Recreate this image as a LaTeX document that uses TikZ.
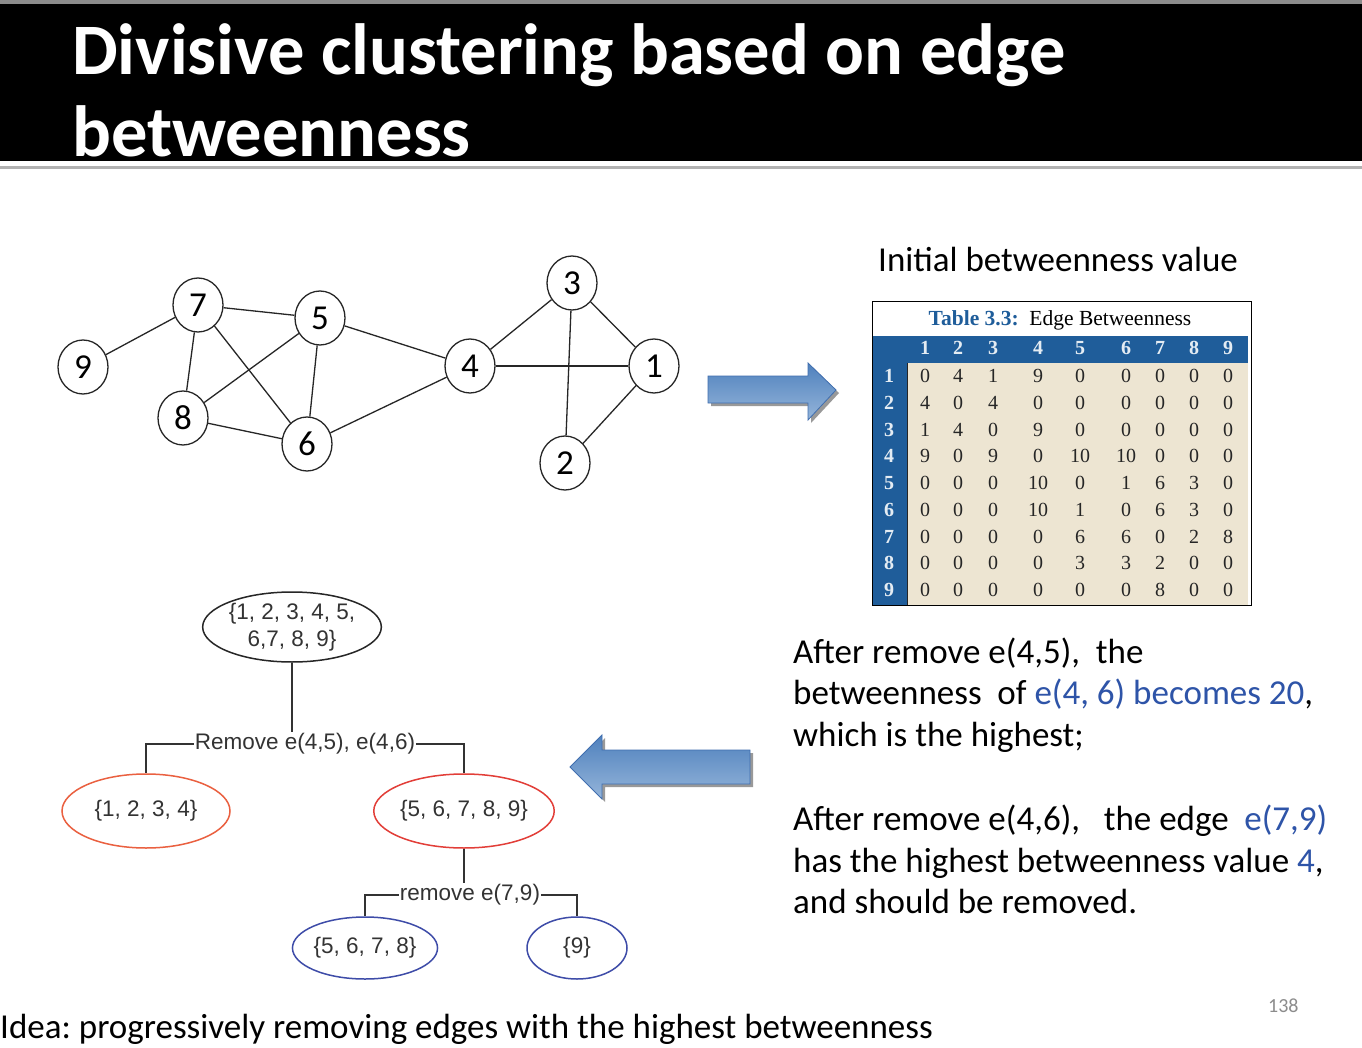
\documentclass[tikz,border=0pt]{standalone}
\usepackage{fontspec}
\newfontfamily\calfont{Carlito}
\newfontfamily\arialfont{Liberation Sans}
\newfontfamily\tabfont{Liberation Serif}
\usetikzlibrary{calc,shapes.geometric}
\definecolor{tabblue}{RGB}{31,93,154}
\definecolor{tabbeige}{RGB}{237,229,210}
\definecolor{hltblue}{RGB}{46,84,168}
\definecolor{arrowtop}{RGB}{79,129,189}
\definecolor{arrowbot}{RGB}{149,181,218}
\definecolor{arrowedge}{RGB}{64,110,175}
\definecolor{redA}{RGB}{234,96,64}
\definecolor{redB}{RGB}{226,62,56}
\definecolor{treeblue}{RGB}{62,76,168}
\frenchspacing
\begin{document}
\begin{tikzpicture}[x=1pt,y=-1pt,
  gnode/.style={ellipse, draw=black!85, line width=1.3pt, minimum width=50pt,
    minimum height=54pt, inner sep=0pt, font=\calfont\fontsize{35}{35}\selectfont},
  gedge/.style={draw=black!85, line width=1.3pt},
  tnode/.style={ellipse, line width=1.5pt, inner sep=0pt, align=center,
    font=\arialfont\fontsize{22.5}{27}\selectfont, text=black!80},
  tlabel/.style={inner sep=1pt, font=\arialfont\fontsize{22.5}{27}\selectfont, text=black!80},
  tedge/.style={draw=black!80, line width=1.5pt},
  bodytext/.style={anchor=base west, inner sep=0pt, font=\calfont\fontsize{35}{35}\selectfont},
  cell/.style={inner sep=0pt, font=\tabfont\fontsize{20}{20}\selectfont, text=black!85},
  headcell/.style={inner sep=0pt, font=\tabfont\bfseries\fontsize{20}{20}\selectfont, text=white!88!tabblue},
  blockarrow/.style={top color=arrowtop, bottom color=arrowbot, draw=arrowedge, line width=0.8pt},
  arrowshadow/.style={fill=black!40}
]
\useasboundingbox (0,0) rectangle (1362,1048);
\fill[white] (0,0) rectangle (1362,1048);

% title band
\fill[black!45] (0,0) rectangle (1362,4);
\fill[black] (0,4) rectangle (1362,161);
\fill[black!30] (0,166) rectangle (1362,169);
\node[anchor=base west, inner sep=0pt, text=white,
  font=\calfont\bfseries\fontsize{72.5}{82}\selectfont] (title1) at (72,75)
  {Divisive clustering based on edge};
\node[anchor=base west, inner sep=0pt, text=white,
  font=\calfont\bfseries\fontsize{72.5}{82}\selectfont] (title2) at (72,157)
  {betweenness};

% graph
\node[gnode] (n9) at (83,367) {9};
\node[gnode] (n7) at (198,305) {7};
\node[gnode] (n5) at (320,318) {5};
\node[gnode] (n8) at (183,418) {8};
\node[gnode] (n6) at (307,444) {6};
\node[gnode] (n4) at (470,366) {4};
\node[gnode] (n3) at (572,283) {3};
\node[gnode] (n1) at (654,366) {1};
\node[gnode] (n2) at (565,463) {2};
\foreach \a/\b in {n9/n7, n7/n5, n7/n8, n7/n6, n5/n8, n5/n6, n5/n4, n8/n6,
  n6/n4, n4/n3, n4/n1, n3/n1, n3/n2, n1/n2}
  \draw[gedge] (\a) -- (\b);

% block arrows
\fill[arrowshadow] (711,379) -- (811,379) -- (811,366) -- (839,393) -- (811,423)
  -- (811,406) -- (711,406) -- cycle;
\path[blockarrow] (708,376) -- (808,376) -- (808,363) -- (836,390) -- (808,420)
  -- (808,403) -- (708,403) -- cycle;
\fill[arrowshadow] (753,753) -- (605,753) -- (605,738) -- (573,770) -- (605,802)
  -- (605,787) -- (753,787) -- cycle;
\path[blockarrow] (750,750) -- (602,750) -- (602,735) -- (570,767) -- (602,799)
  -- (602,784) -- (750,784) -- cycle;

% table
\node[bodytext] (inittitle) at (878,272) {Initial betweenness value};
\fill[tabblue] (873,336) rectangle (1248,363);
\fill[tabblue] (873,363) rectangle (907,605);
\fill[tabbeige] (907,363) rectangle (1248,605);
\draw[black!85, line width=1pt] (907,363) -- (907,605);
\draw[black, line width=1pt] (872,302) rectangle (1251,605);
\node[inner sep=0pt, font=\tabfont\fontsize{21.5}{21.5}\selectfont] (tabcap) at (1060,320)
  {\textcolor{tabblue}{\bfseries Table 3.3:}\ \ Edge Betweenness};
\foreach \c [count=\i] in {925,958,993,1038,1080,1126,1160,1194,1228}
  \node[headcell] (h-\i) at (\c,348) {\i};
\foreach \r/\vals in {1/{0,4,1,9,0,0,0,0,0}, 2/{4,0,4,0,0,0,0,0,0},
  3/{1,4,0,9,0,0,0,0,0}, 4/{9,0,9,0,10,10,0,0,0}, 5/{0,0,0,10,0,1,6,3,0},
  6/{0,0,0,10,1,0,6,3,0}, 7/{0,0,0,0,6,6,0,2,8}, 8/{0,0,0,0,3,3,2,0,0},
  9/{0,0,0,0,0,0,8,0,0}} {
  \pgfmathsetmacro\yy{376+(\r-1)*26.75}
  \node[headcell] (r-\r) at (889,\yy) {\r};
  \foreach \v [count=\c] in \vals {
    \pgfmathsetmacro\xx{{925,958,993,1038,1080,1126,1160,1194,1228}[\c-1]}
    \node[cell] (c-\r-\c) at (\xx,\yy) {\v};
  }
}

% explanation text
\node[bodytext] (l1) at (793,663) {After remove e(4,5),\ \ the};
\node[bodytext] (l2) at (793,704) {betweenness\ \ of \textcolor{hltblue}{e(4, 6) becomes 20},};
\node[bodytext] (l3) at (793,746) {which is the highest;};
\node[bodytext] (l4) at (793,830) {After remove e(4,6),\ \ \ the edge\ \ \textcolor{hltblue}{e(7,9)}};
\node[bodytext] (l5) at (793,872) {has the highest betweenness value \textcolor{hltblue}{4},};
\node[bodytext] (l6) at (793,913) {and should be removed.};

% dendrogram
\node[tnode, draw=black!85, minimum width=168pt, minimum height=70pt] (root) at (292,627)
  {\{1, 2, 3, 4, 5,\\ 6,7, 8, 9\}};
\node[tlabel] (lab1) at (305,744) {Remove e(4,5), e(4,6)};
\node[tnode, draw=redA, minimum width=168pt, minimum height=74pt] (s1234) at (146,811)
  {\{1, 2, 3, 4\}};
\node[tnode, draw=redB, minimum width=168pt, minimum height=74pt] (s56789) at (464,811)
  {\{5, 6, 7, 8, 9\}};
\node[tlabel] (lab2) at (470,895) {remove e(7,9)};
\node[tnode, draw=treeblue, minimum width=144pt, minimum height=62pt] (s5678) at (365,948)
  {\{5, 6, 7, 8\}};
\node[tnode, draw=treeblue, minimum width=100pt, minimum height=62pt] (s9) at (577,948)
  {\{9\}};
\draw[tedge] (root.south) -- (root.south |- lab1.north);
\draw[tedge] (lab1.west) -| (s1234.north);
\draw[tedge] (lab1.east) -| (s56789.north);
\draw[tedge] (s56789.south) -- (s56789.south |- lab2.north);
\draw[tedge] (lab2.west) -| (s5678.north);
\draw[tedge] (lab2.east) -| (s9.north);

% footer
\node[bodytext] (idea) at (0,1038) {Idea: progressively removing edges with the highest betweenness};
\node[anchor=base west, inner sep=0pt, text=black!45,
  font=\calfont\fontsize{20}{20}\selectfont] (pageno) at (1268,1012) {138};
\end{tikzpicture}
\end{document}
